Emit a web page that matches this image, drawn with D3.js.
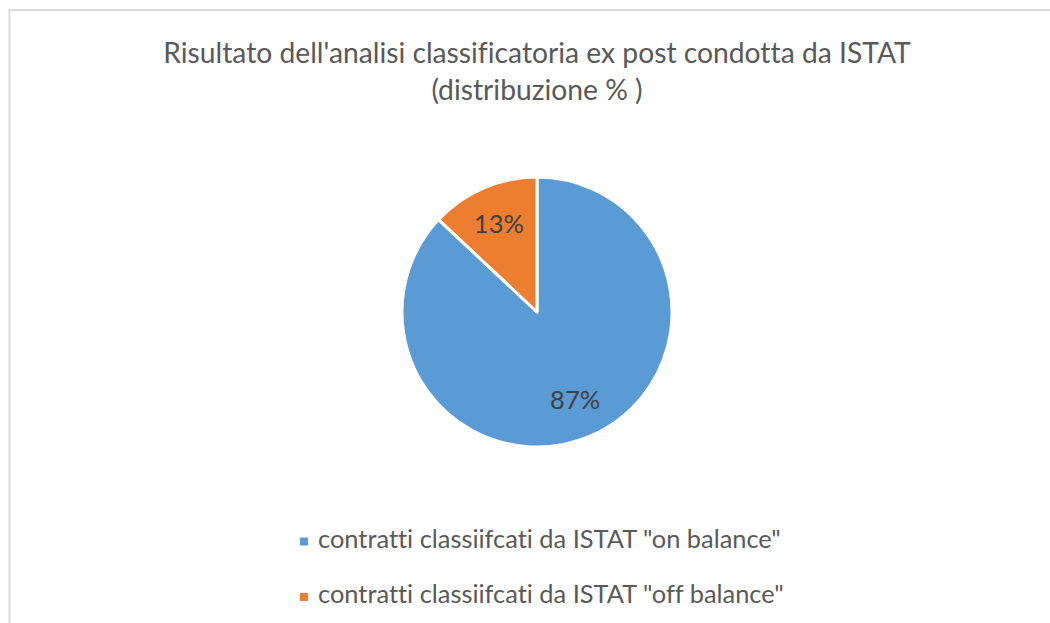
<!DOCTYPE html>
<html><head><meta charset="UTF-8"><title>Risultato analisi classificatoria</title>
<script src="https://cdn.jsdelivr.net/npm/d3@7"></script>
<style>
	body { margin:0; background:#fff; }
	svg  { display:block; }
	text { font-family: Lato, "Noto Sans", sans-serif; fill:#595959; font-variant-ligatures:none; font-feature-settings:"liga" 0; }
</style>
</head><body>
<svg id="chart" width="1050" height="623"></svg>
<script>
// data
var categories = ['contratti classiifcati da ISTAT "on balance"', 'contratti classiifcati da ISTAT "off balance"'];
var values     = [87, 13];
var colors     = ['#5B9BD5', '#ED7D31'];
var titleLines = ["Risultato dell'analisi classificatoria ex post condotta da ISTAT", "(distribuzione % )"];

var svg = d3.select('#chart');
var W = 1050, H = 623;

// chart frame (right and bottom edges are cut off in the original)
svg.append('rect').attr('x', 9.5).attr('y', 10).attr('width', W + 20).attr('height', H + 20)
	.attr('fill', 'none').attr('stroke', '#d9d9d9').attr('stroke-width', 2);

// fit a text element to a target width by adjusting font size
function fit(sel, w) {
	var n = sel.node(), fs = parseFloat(sel.attr('font-size'));
	sel.attr('font-size', fs * w / n.getComputedTextLength());
	return parseFloat(sel.attr('font-size'));
}

var t1 = svg.append('text').attr('x', 537).attr('y', 63).attr('text-anchor', 'middle')
	.attr('font-size', 24).text(titleLines[0]);
var tfs = fit(t1, 748);
svg.append('text').attr('x', 537).attr('y', 100).attr('text-anchor', 'middle')
	.attr('font-size', tfs).text(titleLines[1]);

// pie
var cx = 537, cy = 312, R = 135;
var pie = d3.pie().sort(null).value(function(d){ return d; });
var arcs = pie(values);
var arc = d3.arc().innerRadius(0).outerRadius(R);
var lab = d3.arc().innerRadius(96).outerRadius(96);
var g = svg.append('g').attr('transform', 'translate(' + cx + ',' + cy + ')');
g.selectAll('path').data(arcs).enter().append('path')
	.attr('d', arc)
	.attr('fill', function(d, i){ return colors[i]; })
	.attr('stroke', '#fff').attr('stroke-width', 3).attr('stroke-linejoin', 'round');
var total = d3.sum(values);
g.selectAll('text.lab').data(arcs).enter().append('text').attr('class', 'lab')
	.attr('transform', function(d){ return 'translate(' + lab.centroid(d) + ')'; })
	.attr('text-anchor', 'middle').attr('dy', '0.35em')
	.attr('font-size', 25.5).style('fill', '#404040')
	.text(function(d){ return Math.round(d.value / total * 100) + '%'; });

// legend
var leg = svg.append('g');
var rows = leg.selectAll('g').data(categories).enter().append('g')
	.attr('transform', function(d, i){ return 'translate(300,' + (541.5 + i * 55.5) + ')'; });
rows.append('rect').attr('x', 0).attr('y', -4).attr('width', 8).attr('height', 8)
	.attr('fill', function(d, i){ return colors[i]; });
var lt = rows.append('text').attr('x', 18).attr('y', 6).attr('font-size', 22)
	.text(function(d){ return d; });
var lfs = fit(d3.select(lt.nodes()[0]), 463);
lt.attr('font-size', lfs);
</script>
</body></html>
